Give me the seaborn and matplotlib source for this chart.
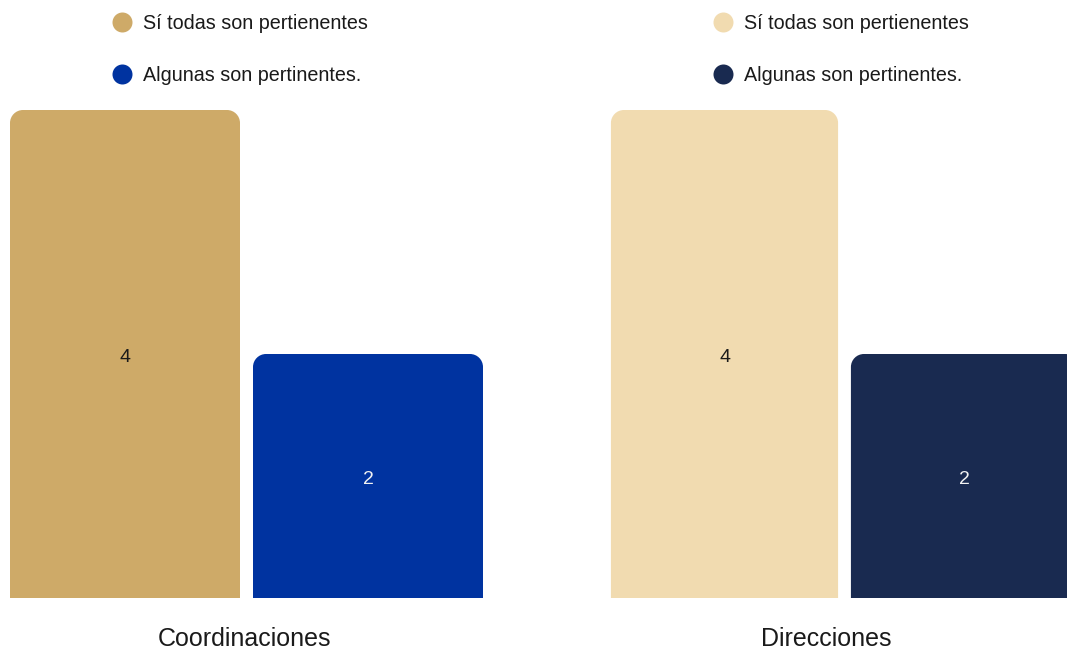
import pandas as pd
import matplotlib.pyplot as plt
import seaborn as sns
from matplotlib.lines import Line2D
from matplotlib.path import Path
from matplotlib.patches import PathPatch

# data
respuestas = ['Sí todas son pertienentes', 'Algunas son pertinentes.']
grupos = ['Coordinaciones', 'Direcciones']
coordinaciones = [4, 2]
direcciones = [4, 2]
colores_coord = ['#CEAA68', '#0033A0']
colores_dir = ['#F1DBB0', '#192A50']
texto_valor_coord = ['#1a1a1a', '#f2f2f2']
texto_valor_dir = ['#1a1a1a', '#f2f2f2']

sns.set_theme(style="white")
plt.rcParams['font.family'] = ['Liberation Sans', 'DejaVu Sans']

W, H = 1067, 649
fig = plt.figure(figsize=(W / 100, H / 100), dpi=100)


def rounded_top(ax, patch, radius_px=13):
    # swap a plain bar for one with rounded top corners
    x0, y0 = patch.get_x(), patch.get_y()
    w, h = patch.get_width(), patch.get_height()
    ax_w = ax.get_position().width * W
    ax_h = ax.get_position().height * H
    xl, yl = ax.get_xlim(), ax.get_ylim()
    rx = radius_px * (xl[1] - xl[0]) / ax_w
    ry = radius_px * (yl[1] - yl[0]) / ax_h
    k = 0.5523
    x1, y1 = x0 + w, y0 + h
    verts = [
        (x0, y0), (x0, y1 - ry),
        (x0, y1 - ry + k * ry), (x0 + rx - k * rx, y1), (x0 + rx, y1),
        (x1 - rx, y1),
        (x1 - rx + k * rx, y1), (x1, y1 - ry + k * ry), (x1, y1 - ry),
        (x1, y0), (x0, y0),
    ]
    codes = [Path.MOVETO, Path.LINETO,
             Path.CURVE4, Path.CURVE4, Path.CURVE4,
             Path.LINETO,
             Path.CURVE4, Path.CURVE4, Path.CURVE4,
             Path.LINETO, Path.CLOSEPOLY]
    new = PathPatch(Path(verts, codes), facecolor=patch.get_facecolor(),
                    edgecolor='none', clip_on=False)
    patch.set_visible(False)
    ax.add_patch(new)


def panel(left_px, width_px, valores, colores, txt_colores, grupo, label_x_px):
    ax = fig.add_axes([left_px / W, 51 / H, width_px / W, 488 / H])
    df = pd.DataFrame({'respuesta': respuestas, 'cantidad': valores})
    sns.barplot(data=df, x='respuesta', y='cantidad', hue='respuesta',
                palette=colores, saturation=1, width=0.9465, legend=False, ax=ax)
    ax.set_xlim(-0.5, 1.5)
    ax.set_ylim(0, 4)
    for p in list(ax.patches):
        rounded_top(ax, p)
    for i, v in enumerate(valores):
        ax.text(i, v / 2 - 0.015, str(v), ha='center', va='center_baseline',
                fontsize=14, color=txt_colores[i])
    ax.set_xticks([])
    ax.set_yticks([])
    ax.set_ylabel('')
    ax.set_xlabel(grupo, fontsize=18, color='#1a1a1a')
    ax.xaxis.set_label_coords((label_x_px - left_px) / width_px, -41 / 488)
    ax.xaxis.label.set_va('center')
    sns.despine(ax=ax, left=True, bottom=True)

    handles = [Line2D([], [], marker='o', linestyle='none', markersize=14.4,
                      markerfacecolor=c, markeredgecolor='none')
               for c in colores]
    ax.legend(handles, respuestas, loc='upper left',
              bbox_to_anchor=((left_px + 108.5) / W, 1 - 14 / H),
              bbox_transform=fig.transFigure, frameon=False, fontsize=14.25,
              borderpad=0, borderaxespad=0, handlelength=1.0,
              handletextpad=0.55, labelspacing=1.65, labelcolor='#1a1a1a')
    return ax


panel(3.5, 486, coordinaciones, colores_coord, texto_valor_coord, grupos[0], 244)
panel(604.5, 480, direcciones, colores_dir, texto_valor_dir, grupos[1], 826.5)

plt.savefig('out.png', dpi=100)
plt.close()
